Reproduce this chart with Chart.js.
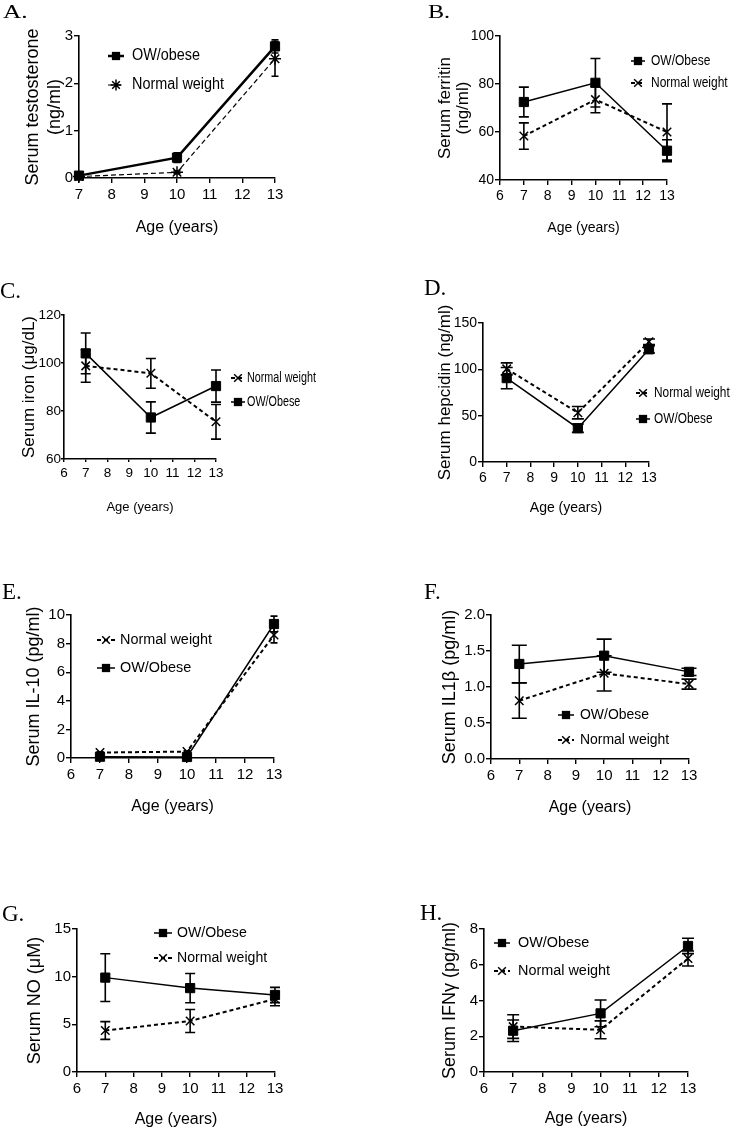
<!DOCTYPE html>
<html>
<head>
<meta charset="utf-8">
<script src="https://cdn.jsdelivr.net/npm/chart.js@4.4.0/dist/chart.umd.min.js"></script>
<style>
body { margin: 0; background: #fff; }
#page { position: relative; width: 730px; height: 1129px; overflow: hidden; }
canvas { position: absolute; }
.letter { position: absolute; font-family: "Liberation Serif", "Times New Roman", serif; font-size: 23px; line-height: 1; color: #000; transform-origin: 0 0; }
</style>
</head>
<body>
<div id="page"></div>
<script>
// ages on the x axis
const ages = [7, 10, 13];
const ageTicksFrom7 = [7, 8, 9, 10, 11, 12, 13];
const ageTicks = [6, 7, 8, 9, 10, 11, 12, 13];

// A. testosterone (ng/ml)
const owTestosterone = [0.05, 0.43, 2.78];
const owTestosteroneSem = [0.03, 0.10, 0.14];
const nwTestosterone = [0.03, 0.12, 2.52];
const nwTestosteroneSem = [0.02, 0.03, 0.37];
const testosteroneTicks = [0, 1, 2, 3];

// B. ferritin (ng/ml)
const owFerritin = [72.5, 80.5, 52.2];
const owFerritinSem = [6.2, 10.1, 4.6];
const nwFerritin = [58.3, 73.5, 60.0];
const nwFerritinSem = [5.5, 5.5, 11.7];
const ferritinTicks = [40, 60, 80, 100];

// C. iron (ug/dL)
const owIron = [104.0, 77.3, 90.4];
const owIronSem = [8.5, 6.5, 6.7];
const nwIron = [98.8, 95.7, 75.5];
const nwIronSem = [6.8, 6.2, 7.2];
const ironTicks = [60, 80, 100, 120];

// D. hepcidin (ng/ml)
const owHepcidin = [90.5, 36.5, 121.6];
const owHepcidinSem = [11.5, 4.5, 4.0];
const nwHepcidin = [100.5, 53.2, 129.8];
const nwHepcidinSem = [6.5, 6.7, 3.0];
const hepcidinTicks = [0, 50, 100, 150];

// E. IL-10 (pg/ml)
const owIL10 = [0.09, 0.07, 9.37];
const owIL10Sem = [0.05, 0.05, 0.55];
const nwIL10 = [0.38, 0.45, 8.6];
const nwIL10Sem = [0.05, 0.05, 0.55];
const il10Ticks = [0, 2, 4, 6, 8, 10];

// F. IL1b (pg/ml)
const owIL1b = [1.32, 1.435, 1.21];
const owIL1bSem = [0.26, 0.23, 0.05];
const nwIL1b = [0.81, 1.19, 1.04];
const nwIL1bSem = [0.245, 0.245, 0.07];
const il1bTicks = [0, 0.5, 1.0, 1.5, 2.0];

// G. NO (uM)
const owNO = [9.9, 8.8, 8.08];
const owNOSem = [2.5, 1.54, 0.8];
const nwNO = [4.35, 5.35, 7.65];
const nwNOSem = [0.93, 1.2, 0.7];
const noTicks = [0, 5, 10, 15];

// H. IFNg (pg/ml)
const owIFNg = [2.31, 3.28, 7.05];
const owIFNgSem = [0.6, 0.75, 0.43];
const nwIFNg = [2.54, 2.36, 6.35];
const nwIFNgSem = [0.66, 0.5, 0.42];
const ifngTicks = [0, 2, 4, 6, 8];

const FONT = '"Liberation Sans", Arial, sans-serif';
const page = document.getElementById('page');

// vertical error bars with caps
const errorBars = {
    id: 'errorBars',
    beforeDatasetsDraw(chart, args, opts) {
        const ctx = chart.ctx, xs = chart.scales.x, ys = chart.scales.y;
        ctx.save();
        ctx.strokeStyle = '#000';
        ctx.lineWidth = 1.6;
        ctx.setLineDash([]);
        chart.data.datasets.forEach(ds => {
            ds.data.forEach((pt, i) => {
                const x = xs.getPixelForValue(pt.x);
                const y1 = ys.getPixelForValue(pt.y + ds.sem[i]);
                const y2 = ys.getPixelForValue(pt.y - ds.sem[i]);
                const c = opts.cap;
                ctx.beginPath();
                ctx.moveTo(x, y1); ctx.lineTo(x, y2);
                ctx.moveTo(x - c, y1); ctx.lineTo(x + c, y1);
                ctx.moveTo(x - c, y2); ctx.lineTo(x + c, y2);
                ctx.stroke();
            });
        });
        ctx.restore();
    }
};

function marker(ctx, style, x, y, r) {
    const d = r * Math.SQRT1_2;
    if (style === 'rect') { ctx.fillRect(x - d, y - d, 2 * d, 2 * d); return; }
    ctx.beginPath();
    ctx.moveTo(x - d, y - d); ctx.lineTo(x + d, y + d);
    ctx.moveTo(x - d, y + d); ctx.lineTo(x + d, y - d);
    if (style === 'star') {
        ctx.moveTo(x - r, y); ctx.lineTo(x + r, y);
        ctx.moveTo(x, y - r); ctx.lineTo(x, y + r);
    }
    ctx.stroke();
}

// legend drawn inside the panel, like the original figure
const panelLegend = {
    id: 'panelLegend',
    afterDraw(chart, args, opts) {
        const ctx = chart.ctx;
        ctx.save();
        ctx.fillStyle = '#000';
        ctx.strokeStyle = '#000';
        ctx.font = opts.size + 'px ' + FONT;
        ctx.textBaseline = 'middle';
        for (let k = 0; k < opts.rows.length; k++) {
            const row = opts.rows[k];
            const ds = chart.data.datasets[row.index];
            ctx.lineWidth = ds.borderWidth;
            ctx.setLineDash(ds.borderDash || []);
            ctx.beginPath();
            ctx.moveTo(opts.x - opts.half, row.y);
            ctx.lineTo(opts.x + opts.half, row.y);
            ctx.stroke();
            ctx.setLineDash([]);
            ctx.lineWidth = ds.pointBorderWidth;
            marker(ctx, ds.pointStyle, opts.x, row.y, ds.pointRadius * 0.9);
            ctx.save();
            ctx.translate(opts.textX, row.y);
            ctx.scale(opts.squeeze, 1);
            ctx.fillText(ds.label, 0, 0);
            ctx.restore();
        }
        ctx.restore();
    }
};

function makePanel(p) {
    const [cx, cy, cw, ch] = p.cell;
    const [pl, pt, pr, pb] = p.plot;
    const canvas = document.createElement('canvas');
    canvas.width = cw; canvas.height = ch;
    canvas.style.left = cx + 'px'; canvas.style.top = cy + 'px';
    page.appendChild(canvas);

    const letter = document.createElement('div');
    letter.className = 'letter';
    letter.textContent = p.letter[0];
    letter.style.left = p.letter[1] + 'px';
    letter.style.top = p.letter[2] + 'px';
    if (p.letterScale) letter.style.transform = 'scale(' + p.letterScale + ')';
    page.appendChild(letter);

    const yLH = p.yTitleSize * p.yTitleLH;
    const xLH = p.xTitleSize * 1.2;
    const yWidth = pl - cx;
    const xHeight = cy + ch - pb;
    const tickLen = p.tickLen || 5;

    const ow = {
        label: p.owLabel || 'OW/Obese',
        data: ages.map((a, i) => ({ x: a, y: p.ow[i] })),
        sem: p.owSem,
        borderColor: '#000', backgroundColor: '#000',
        borderWidth: p.owWidth || 1.5,
        pointStyle: 'rect', pointRadius: 6.5, pointBorderWidth: 1,
        clip: false
    };
    const nw = {
        label: 'Normal weight',
        data: ages.map((a, i) => ({ x: a, y: p.nw[i] })),
        sem: p.nwSem,
        borderColor: '#000', backgroundColor: '#000',
        borderWidth: p.nwWidth || 2,
        borderDash: p.nwDash || [4, 3],
        pointStyle: p.nwStyle || 'crossRot', pointRadius: 6, pointBorderWidth: 1.5,
        clip: false
    };
    const rows = p.legend.rows.map(r => ({ index: r[0] === 'ow' ? 0 : 1, y: r[1] - cy }));

    new Chart(canvas.getContext('2d'), {
        type: 'line',
        data: { datasets: [ow, nw] },
        options: {
            responsive: false,
            animation: false,
            events: [],
            layout: { padding: { left: 0, top: pt - cy, right: cx + cw - pr, bottom: 0 } },
            elements: { line: { tension: 0 } },
            plugins: {
                legend: { display: false },
                tooltip: { enabled: false },
                errorBars: { cap: p.cap },
                panelLegend: {
                    x: p.legend.x - cx, half: p.legend.half, textX: p.legend.textX - cx,
                    size: p.legend.size, squeeze: p.legend.squeeze, rows: rows
                }
            },
            scales: {
                x: {
                    type: 'linear',
                    min: p.xTicks[0], max: p.xTicks[p.xTicks.length - 1],
                    afterFit: s => { s.height = xHeight; },
                    border: { display: true, color: '#000', width: 1.6 },
                    grid: { drawOnChartArea: false, drawTicks: true, tickLength: tickLen, color: '#000', lineWidth: 1.4 },
                    ticks: { stepSize: 1, autoSkip: false, maxRotation: 0, padding: 3, color: '#000', font: { family: FONT, size: p.tickSize } },
                    title: {
                        display: true, text: 'Age (years)', color: '#000',
                        font: { family: FONT, size: p.xTitleSize, lineHeight: 1.2 },
                        padding: { top: 0, bottom: (cy + ch - p.xTitleY) - xLH / 2 }
                    }
                },
                y: {
                    type: 'linear',
                    min: p.yTicks[0], max: p.yTicks[p.yTicks.length - 1],
                    afterFit: s => { s.width = yWidth; },
                    border: { display: true, color: '#000', width: 1.6 },
                    grid: { drawOnChartArea: false, drawTicks: true, tickLength: tickLen, color: '#000', lineWidth: 1.4 },
                    ticks: {
                        stepSize: p.yTicks[1] - p.yTicks[0], padding: p.yTickPad === undefined ? 1 : p.yTickPad, color: '#000',
                        font: { family: FONT, size: p.tickSize },
                        callback: v => p.decimals ? v.toFixed(p.decimals) : v
                    },
                    title: {
                        display: true, text: p.yTitle, color: '#000',
                        font: { family: FONT, size: p.yTitleSize, lineHeight: p.yTitleLH },
                        padding: { top: (p.yTitleX - cx) - yLH / 2, bottom: 0 }
                    }
                }
            }
        },
        plugins: [errorBars, panelLegend]
    });
}

const panels = [
    {
        letter: ['A.', 3, 2], letterScale: '1.1, 0.85', cell: [0, 0, 365, 250], plot: [79, 36, 275, 178],
        xTicks: ageTicksFrom7, yTicks: testosteroneTicks,
        ow: owTestosterone, owSem: owTestosteroneSem, nw: nwTestosterone, nwSem: nwTestosteroneSem,
        owLabel: 'OW/obese', owWidth: 2.5, nwWidth: 1.2, nwDash: [5, 3], nwStyle: 'star',
        yTitle: ['Serum testosterone', '(ng/ml)'], yTitleX: 33.5, yTitleSize: 18, yTitleLH: 1.22,
        xTitleY: 228, xTitleSize: 16, tickSize: 15, cap: 3.5,
        legend: { x: 116, half: 8, textX: 132, size: 16, squeeze: 0.9, rows: [['ow', 56], ['nw', 85]] }
    },
    {
        letter: ['B.', 428, 2], letterScale: '1.05, 0.85', cell: [365, 0, 365, 250], plot: [500, 36, 667, 180],
        xTicks: ageTicks, yTicks: ferritinTicks,
        ow: owFerritin, owSem: owFerritinSem, nw: nwFerritin, nwSem: nwFerritinSem,
        yTitle: ['Serum ferritin', '(ng/ml)'], yTitleX: 445, yTitleSize: 17, yTitleLH: 1.06,
        xTitleY: 228, xTitleSize: 14, tickSize: 14, cap: 5,
        legend: { x: 638, half: 7, textX: 651, size: 15, squeeze: 0.8, rows: [['ow', 61], ['nw', 83]] }
    },
    {
        letter: ['C.', 0, 279], cell: [0, 255, 365, 265], plot: [64, 315, 216, 459],
        xTicks: ageTicks, yTicks: ironTicks, tickLen: 3, yTickPad: 0,
        ow: owIron, owSem: owIronSem, nw: nwIron, nwSem: nwIronSem,
        yTitle: 'Serum iron (μg/dL)', yTitleX: 29, yTitleSize: 17, yTitleLH: 1.2,
        xTitleY: 507, xTitleSize: 13, tickSize: 13.5, cap: 5,
        legend: { x: 238, half: 7, textX: 247, size: 14, squeeze: 0.77, rows: [['nw', 378], ['ow', 402]] }
    },
    {
        letter: ['D.', 424, 276], cell: [365, 255, 365, 265], plot: [483, 323, 649, 462],
        xTicks: ageTicks, yTicks: hepcidinTicks,
        ow: owHepcidin, owSem: owHepcidinSem, nw: nwHepcidin, nwSem: nwHepcidinSem,
        yTitle: 'Serum hepcidin (ng/ml)', yTitleX: 445, yTitleSize: 17, yTitleLH: 1.2,
        xTitleY: 508, xTitleSize: 14, tickSize: 14, cap: 6,
        legend: { x: 643, half: 7, textX: 654, size: 15, squeeze: 0.79, rows: [['nw', 393], ['ow', 419]] }
    },
    {
        letter: ['E.', 2, 580], cell: [0, 530, 365, 300], plot: [71, 615, 274, 758],
        xTicks: ageTicks, yTicks: il10Ticks,
        ow: owIL10, owSem: owIL10Sem, nw: nwIL10, nwSem: nwIL10Sem,
        yTitle: 'Serum IL-10 (pg/ml)', yTitleX: 34, yTitleSize: 18, yTitleLH: 1.2,
        xTitleY: 807, xTitleSize: 16, tickSize: 15, cap: 3.5,
        legend: { x: 106, half: 9, textX: 120, size: 15.5, squeeze: 0.93, rows: [['nw', 640], ['ow', 668]] }
    },
    {
        letter: ['F.', 424, 580], cell: [365, 530, 365, 300], plot: [491, 615, 689, 759],
        xTicks: ageTicks, yTicks: il1bTicks, decimals: 1,
        ow: owIL1b, owSem: owIL1bSem, nw: nwIL1b, nwSem: nwIL1bSem,
        yTitle: 'Serum IL1β (pg/ml)', yTitleX: 450, yTitleSize: 18, yTitleLH: 1.2,
        xTitleY: 808, xTitleSize: 16, tickSize: 15, cap: 7.5,
        legend: { x: 566, half: 8, textX: 580, size: 15.5, squeeze: 0.9, rows: [['ow', 715], ['nw', 740]] }
    },
    {
        letter: ['G.', 2, 902], cell: [0, 840, 365, 289], plot: [77, 929, 275, 1072],
        xTicks: ageTicks, yTicks: noTicks,
        ow: owNO, owSem: owNOSem, nw: nwNO, nwSem: nwNOSem,
        yTitle: 'Serum NO (μM)', yTitleX: 35, yTitleSize: 18, yTitleLH: 1.2,
        xTitleY: 1120, xTitleSize: 16, tickSize: 15, cap: 5,
        legend: { x: 163, half: 9, textX: 177, size: 15.5, squeeze: 0.91, rows: [['ow', 933], ['nw', 958]] }
    },
    {
        letter: ['H.', 420, 901], cell: [365, 840, 365, 289], plot: [484, 929, 688, 1072],
        xTicks: ageTicks, yTicks: ifngTicks,
        ow: owIFNg, owSem: owIFNgSem, nw: nwIFNg, nwSem: nwIFNgSem,
        yTitle: 'Serum IFNγ (pg/ml)', yTitleX: 450, yTitleSize: 18, yTitleLH: 1.2,
        xTitleY: 1119, xTitleSize: 16, tickSize: 15, cap: 6,
        legend: { x: 502, half: 8, textX: 518, size: 15.5, squeeze: 0.93, rows: [['ow', 943], ['nw', 971]] }
    }
];

panels.forEach(makePanel);
</script>
</body>
</html>
